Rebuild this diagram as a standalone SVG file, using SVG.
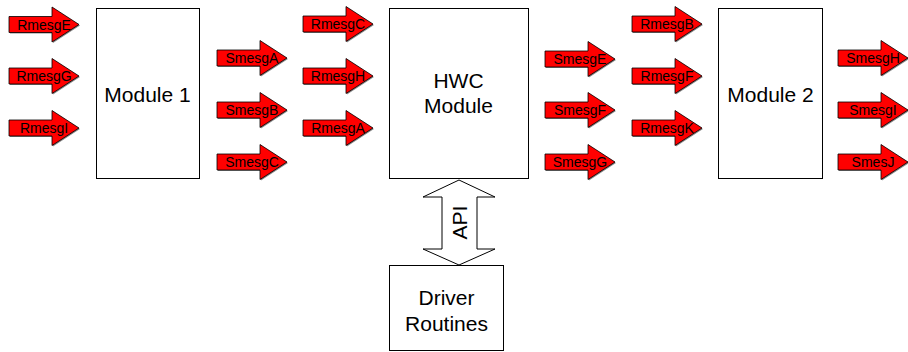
<svg xmlns="http://www.w3.org/2000/svg" width="908" height="352" viewBox="0 0 908 352">
<style>
.box{fill:#fff;stroke:#000;stroke-width:1}
.mt{font-family:"Liberation Sans",Arial,sans-serif;font-size:21px;fill:#000;text-anchor:middle}
.at{font-family:"Liberation Sans",Arial,sans-serif;font-size:14px;fill:#000;text-anchor:middle}
.ar{fill:#ff0000;stroke:#000;stroke-width:0.8;stroke-linejoin:miter}
.sh{fill:#888}
.api{fill:#fff;stroke:#000;stroke-width:1}
</style>
<defs>
<g id="msg">
<polygon class="sh" points="1,-7 44,-7 44,-16.5 71,1 44,18.5 44,9 1,9"/>
<polygon class="ar" points="0,-8 43,-8 43,-17.5 70,0 43,17.5 43,8 0,8"/>
</g>
</defs>
<rect width="908" height="352" fill="#fff"/>
<g id="module1"><rect class="box" x="96.5" y="8.5" width="103" height="170"/><text class="mt" x="147.5" y="102">Module 1</text></g>
<g id="hwc"><rect class="box" x="389.5" y="8.5" width="139" height="170"/><text class="mt" x="458.5" y="88">HWC</text><text class="mt" x="458.5" y="113">Module</text></g>
<g id="module2"><rect class="box" x="718.5" y="8.5" width="104" height="170"/><text class="mt" x="770.5" y="102">Module 2</text></g>
<g id="driver"><rect class="box" x="389.5" y="265.5" width="114" height="85"/><text class="mt" x="446.5" y="305">Driver</text><text class="mt" x="446.5" y="331">Routines</text></g>
<g id="connectors">
<polygon class="api" points="459,180 495,197 477,197 477,249 495,249 459,265 423,249 442,249 442,197 423,197"/>
<text class="mt" transform="translate(466.5,222.5) rotate(-90)" x="0" y="0">API</text>
</g>
<g id="messages">
<g id="RmesgE"><use href="#msg" x="9" y="24.5"/><text class="at" x="44" y="29.5">RmesgE</text></g>
<g id="RmesgG"><use href="#msg" x="9" y="76"/><text class="at" x="44" y="81">RmesgG</text></g>
<g id="RmesgI"><use href="#msg" x="9" y="128"/><text class="at" x="44" y="133">RmesgI</text></g>
<g id="SmesgA"><use href="#msg" x="217" y="58"/><text class="at" x="252" y="63">SmesgA</text></g>
<g id="SmesgB"><use href="#msg" x="217" y="110"/><text class="at" x="252" y="115">SmesgB</text></g>
<g id="SmesgC"><use href="#msg" x="217" y="162"/><text class="at" x="252" y="167">SmesgC</text></g>
<g id="RmesgC"><use href="#msg" x="303" y="24"/><text class="at" x="338" y="29">RmesgC</text></g>
<g id="RmesgH"><use href="#msg" x="303" y="76"/><text class="at" x="338" y="81">RmesgH</text></g>
<g id="RmesgA"><use href="#msg" x="303" y="128"/><text class="at" x="338" y="133">RmesgA</text></g>
<g id="SmesgE"><use href="#msg" x="545" y="59"/><text class="at" x="580" y="64">SmesgE</text></g>
<g id="SmesgF"><use href="#msg" x="545" y="110"/><text class="at" x="580" y="115">SmesgF</text></g>
<g id="SmesgG"><use href="#msg" x="545" y="162"/><text class="at" x="580" y="167">SmesgG</text></g>
<g id="RmesgB"><use href="#msg" x="632" y="24"/><text class="at" x="667" y="29">RmesgB</text></g>
<g id="RmesgF"><use href="#msg" x="632" y="76"/><text class="at" x="667" y="81">RmesgF</text></g>
<g id="RmesgK"><use href="#msg" x="632" y="128"/><text class="at" x="667" y="133">RmesgK</text></g>
<g id="SmesgH"><use href="#msg" x="838" y="58"/><text class="at" x="873" y="63">SmesgH</text></g>
<g id="SmesgI"><use href="#msg" x="838" y="110"/><text class="at" x="873" y="115">SmesgI</text></g>
<g id="SmesJ"><use href="#msg" x="838" y="162"/><text class="at" x="873" y="167">SmesJ</text></g>
</g>
</svg>
